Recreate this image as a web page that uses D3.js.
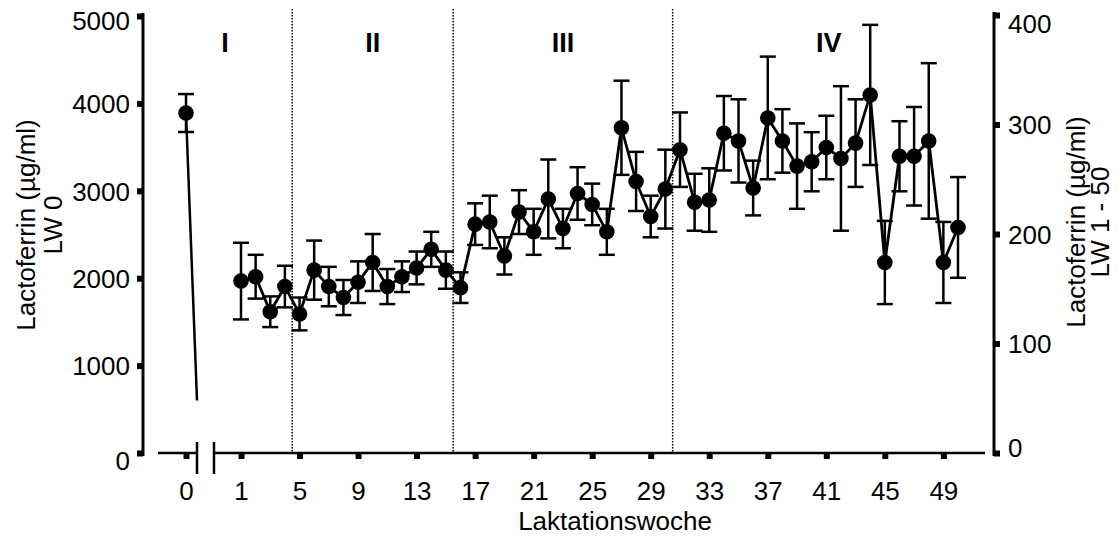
<!DOCTYPE html>
<html><head><meta charset="utf-8">
<script src="https://cdn.jsdelivr.net/npm/d3@7"></script>
<style>
body{margin:0;background:#fff;}
svg{display:block;font-family:"Liberation Sans",Arial,Helvetica,sans-serif;}
</style></head>
<body><svg id="c" width="1118" height="537"></svg>
<script>
// ---- data ----
const week0 = 0;
const week0Mean = 3890;      // µg/ml, left axis (LW 0)
const week0Err = 217;
const week0TailValue = 600;  // truncated connector toward the break
const weeks = d3.range(1, 51);
const lfMean = [157,161,129,152,127,167,152,142,156,174,152,161,169,186,167,151,209,211,180,220,
                202,232,205,237,227,202,297,248,216,241,277,229,231,292,285,242,306,285,262,266,
                279,269,283,327,174,271,271,285,174,206];
const lfErr  = [35,20,14,19,15,27,18,16,19,26,16,14,15,16,17,14,19,24,17,20,
                21,36,18,24,19,21,43,27,19,36,34,26,29,34,38,25,56,29,39,27,
                29,66,40,64,38,32,45,71,37,46];
const xTicks = [0,1,5,9,13,17,21,25,29,33,37,41,45,49];
const leftTicks = [0,1000,2000,3000,4000,5000];
const rightTicks = [0,100,200,300,400];
const phaseNames = ["I","II","III","IV"];
const phaseBounds = [4.5, 15.5, 30.5];   // week boundaries between phases
const xTitle = "Laktationswoche";
const leftTitle = ["Lactoferrin (µg/ml)", "LW 0"];
const rightTitle = ["Lactoferrin (µg/ml)", "LW 1 - 50"];

// ---- layout ----
const svg = d3.select("#c");
const FONT = 26;
const axL = 143, axR = 994, axB = 453, axT = 16;
const x = d3.scaleLinear().domain([0, 1, 50]).range([186, 241, 958]);
const yL = d3.scaleLinear().domain([0, 5000]).range([axB, axT]);
const yR = d3.scaleLinear().domain([0, 400]).range([axB, axT - 1]);
const xStart = 158, xEnd = 985, brk1 = 197, brk2 = 214;

// dotted phase separators
svg.append("g").selectAll("line").data(phaseBounds).join("line")
  .attr("x1", d => x(d)).attr("x2", d => x(d))
  .attr("y1", 9).attr("y2", axB)
  .attr("stroke", "#000").attr("stroke-width", 1.5).attr("stroke-dasharray", "1.5,1.5");

// phase labels
const edges = [xStart, ...phaseBounds.map(b => x(b)), xEnd];
svg.append("g").selectAll("text").data(phaseNames).join("text")
  .attr("x", (d, i) => (edges[i] + edges[i + 1]) / 2)
  .attr("y", 52).attr("text-anchor", "middle")
  .attr("font-size", 27).attr("font-weight", "bold").text(d => d);

// left axis
const gL = svg.append("g").attr("transform", `translate(${axL},0)`)
  .call(d3.axisLeft(yL).tickValues(leftTicks).tickSize(6).tickPadding(7).tickFormat(d3.format("d")));
gL.select(".domain").remove();
gL.selectAll(".tick line").attr("stroke-width", 6).attr("stroke", "#000");
gL.selectAll(".tick text").attr("font-size", FONT).attr("fill", "#000").attr("font-family", null)
  .attr("dy", d => d === 0 ? "0.62em" : d === 5000 ? "0.5em" : "0.36em");
svg.append("line").attr("x1", axL).attr("x2", axL).attr("y1", axT - 3).attr("y2", axB + 3)
  .attr("stroke", "#000").attr("stroke-width", 3);

// right axis
const gR = svg.append("g").attr("transform", `translate(${axR},0)`)
  .call(d3.axisRight(yR).tickValues(rightTicks).tickSize(6).tickPadding(8).tickFormat(d3.format("d")));
gR.select(".domain").remove();
gR.selectAll(".tick line").attr("stroke-width", 6).attr("stroke", "#000");
gR.selectAll(".tick text").attr("font-size", FONT).attr("fill", "#000").attr("font-family", null)
  .attr("dy", d => d === 0 ? "0.12em" : d === 400 ? "0.66em" : "0.36em");
svg.append("line").attr("x1", axR).attr("x2", axR).attr("y1", axT - 4).attr("y2", axB + 3)
  .attr("stroke", "#000").attr("stroke-width", 3);

// bottom axis
const gB = svg.append("g").attr("transform", `translate(0,${axB})`)
  .call(d3.axisBottom(x).tickValues(xTicks).tickSize(6).tickPadding(23).tickFormat(d3.format("d")));
gB.select(".domain").remove();
gB.selectAll(".tick line").attr("stroke-width", 6).attr("stroke", "#000");
gB.selectAll(".tick text").attr("font-size", FONT).attr("fill", "#000").attr("font-family", null);
const axisLine = svg.append("g").attr("stroke", "#000").attr("stroke-width", 2.5);
axisLine.append("line").attr("x1", xStart).attr("x2", brk1).attr("y1", axB).attr("y2", axB);
axisLine.append("line").attr("x1", brk2).attr("x2", xEnd).attr("y1", axB).attr("y2", axB);
axisLine.append("line").attr("x1", brk1).attr("x2", brk1).attr("y1", axB - 11).attr("y2", axB + 21);
axisLine.append("line").attr("x1", brk2).attr("x2", brk2).attr("y1", axB - 11).attr("y2", axB + 21);

// titles
svg.append("text").attr("x", 615).attr("y", 530).attr("text-anchor", "middle")
  .attr("font-size", FONT).text(xTitle);
const tl = svg.append("text").attr("transform", "translate(35,225) rotate(-90)")
  .attr("text-anchor", "middle").attr("font-size", FONT);
tl.append("tspan").attr("x", 0).attr("y", 0).text(leftTitle[0]);
tl.append("tspan").attr("x", 0).attr("y", 27).text(leftTitle[1]);
const tr = svg.append("text").attr("transform", "translate(1085,222) rotate(-90)")
  .attr("text-anchor", "middle").attr("font-size", FONT);
tr.append("tspan").attr("x", 0).attr("y", 0).text(rightTitle[0]);
tr.append("tspan").attr("x", 0).attr("y", 24).text(rightTitle[1]);

// ---- data marks ----
const data = weeks.map((w, i) => ({w, m: lfMean[i], e: lfErr[i]}));
const capW = 8;

// week 0 truncated connector
svg.append("line").attr("x1", x(week0)).attr("y1", yL(week0Mean))
  .attr("x2", brk1).attr("y2", yL(week0TailValue))
  .attr("stroke", "#000").attr("stroke-width", 2.5);

// main line
svg.append("path").datum(data)
  .attr("d", d3.line().x(d => x(d.w)).y(d => yR(d.m)))
  .attr("fill", "none").attr("stroke", "#000").attr("stroke-width", 2.8).attr("stroke-linejoin", "round");

// error bars
const eb = svg.append("g").attr("stroke", "#000").attr("stroke-width", 2.5);
function errBar(cx, yTop, yBot) {
  eb.append("line").attr("x1", cx).attr("x2", cx).attr("y1", yTop).attr("y2", yBot);
  eb.append("line").attr("x1", cx - capW).attr("x2", cx + capW).attr("y1", yTop).attr("y2", yTop);
  eb.append("line").attr("x1", cx - capW).attr("x2", cx + capW).attr("y1", yBot).attr("y2", yBot);
}
data.forEach(d => errBar(x(d.w), yR(d.m + d.e), yR(d.m - d.e)));
errBar(x(week0), yL(week0Mean + week0Err), yL(week0Mean - week0Err));

// dots
svg.append("g").selectAll("circle").data(data).join("circle")
  .attr("cx", d => x(d.w)).attr("cy", d => yR(d.m)).attr("r", 7.8).attr("fill", "#000");
svg.append("circle").attr("cx", x(week0)).attr("cy", yL(week0Mean)).attr("r", 7.8).attr("fill", "#000");
</script></body></html>
